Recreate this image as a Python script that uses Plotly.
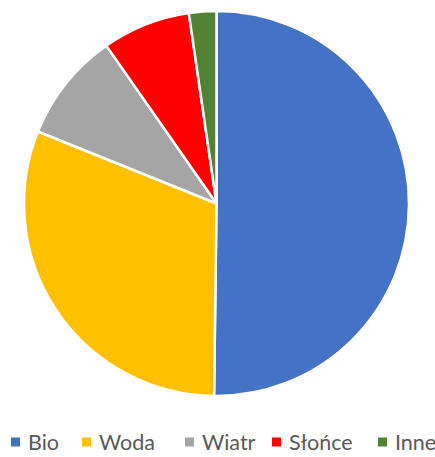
import plotly.graph_objects as go

labels = ["Bio", "Woda", "Wiatr", "Słońce", "Inne"]
values = [50.2, 30.9, 9.2, 7.4, 2.3]
colors = ["#4472C4", "#FFC000", "#A5A5A5", "#FF0000", "#548235"]

W, H = 435, 457
ML, MR, MT, MB = 0, 2, 11, 61
PW, PH = W - ML - MR, H - MT - MB

# legend layout (pixel positions of each legend key's left edge)
key_left_px = [11, 82, 185, 272, 378]
key_size_px = 9
key_center_y_px = 442
text_bottom_y_px = 456
text_gap_px = 7


def px_to_paper_x(px):
    return (px - ML) / PW


def px_to_paper_y(py):
    return (H - MB - py) / PH


fig = go.Figure(go.Pie(
    labels=labels,
    values=values,
    sort=False,
    direction="clockwise",
    rotation=0,
    textinfo="none",
    hoverinfo="label+percent",
    marker=dict(colors=colors, line=dict(color="white", width=2.5)),
))

shapes = []
annotations = []
for lab, col, kx in zip(labels, colors, key_left_px):
    shapes.append(dict(
        type="rect", xref="paper", yref="paper",
        x0=px_to_paper_x(kx), x1=px_to_paper_x(kx + key_size_px),
        y0=px_to_paper_y(key_center_y_px + key_size_px / 2),
        y1=px_to_paper_y(key_center_y_px - key_size_px / 2),
        fillcolor=col, line=dict(width=0),
    ))
    annotations.append(dict(
        text=lab, xref="paper", yref="paper",
        x=px_to_paper_x(kx + key_size_px + text_gap_px),
        y=px_to_paper_y(text_bottom_y_px),
        xanchor="left", yanchor="bottom", showarrow=False,
        font=dict(family="Lato", size=21.5, color="#595959"),
        borderpad=0,
    ))

fig.update_layout(
    width=W, height=H,
    margin=dict(l=ML, r=MR, t=MT, b=MB, autoexpand=False),
    paper_bgcolor="white",
    plot_bgcolor="white",
    showlegend=False,
    shapes=shapes,
    annotations=annotations,
)

fig.write_html("out.html", config={"displayModeBar": False},
               post_script="document.body.style.margin='0';")
